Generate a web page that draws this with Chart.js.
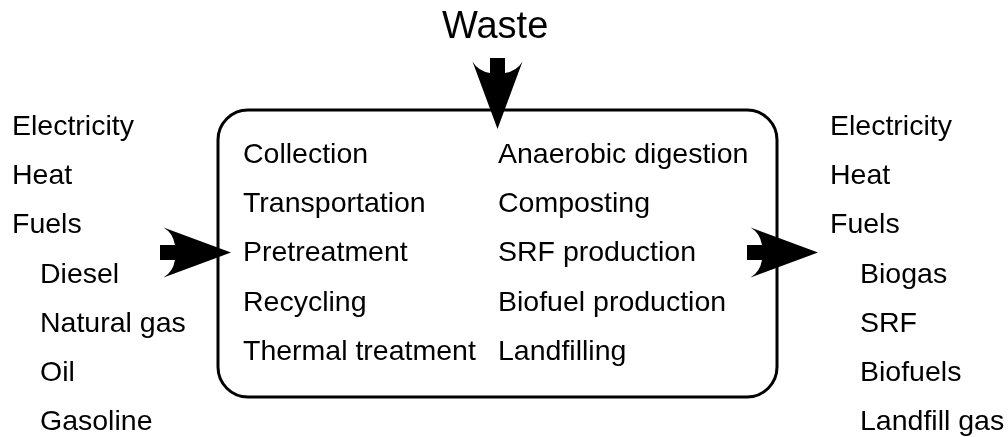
<!DOCTYPE html>
<html>
<head>
<meta charset="utf-8">
<script src="https://cdn.jsdelivr.net/npm/chart.js@4/dist/chart.umd.min.js"></script>
<style>
html,body{margin:0;padding:0;background:#fff;}
#wrap{width:1008px;height:437px;}
</style>
</head>
<body>
<div id="wrap"><canvas id="c" width="1008" height="437"></canvas></div>
<script>
// ---- content ----
const titleLabel = "Waste";
const inputMain = ["Electricity", "Heat", "Fuels"];
const inputFuels = ["Diesel", "Natural gas", "Oil", "Gasoline"];
const processLeft = ["Collection", "Transportation", "Pretreatment", "Recycling", "Thermal treatment"];
const processRight = ["Anaerobic digestion", "Composting", "SRF production", "Biofuel production", "Landfilling"];
const outputMain = ["Electricity", "Heat", "Fuels"];
const outputFuels = ["Biogas", "SRF", "Biofuels", "Landfill gas"];

// ---- layout (value-space of the hidden scales) ----
const FONT = '28.5px "Liberation Sans", Arial, sans-serif';
const TITLE_FONT = '38px "Liberation Sans", Arial, sans-serif';
const rowStep = 49.2;

function drawArrow(ctx, xs, ys, back, tip, center, dir) {
  // dir: 'right' or 'down'; coordinates computed along axis then mapped
  const hw = 25, sw = 7.5, wingOff = 3.5, notchOff = 15;
  const pts = (a, p) => dir === 'right' ? [xs(a), ys(p)] : [xs(p), ys(a)];
  ctx.beginPath();
  let q;
  q = pts(back, center - sw); ctx.moveTo(q[0], q[1]);
  q = pts(back + notchOff, center - sw); ctx.lineTo(q[0], q[1]);
  let c1 = pts(back + notchOff - 2, center - sw - 12);
  q = pts(back + wingOff, center - hw); ctx.quadraticCurveTo(c1[0], c1[1], q[0], q[1]);
  q = pts(tip, center); ctx.lineTo(q[0], q[1]);
  q = pts(back + wingOff, center + hw); ctx.lineTo(q[0], q[1]);
  c1 = pts(back + notchOff - 2, center + sw + 12);
  q = pts(back + notchOff, center + sw); ctx.quadraticCurveTo(c1[0], c1[1], q[0], q[1]);
  q = pts(back, center + sw); ctx.lineTo(q[0], q[1]);
  ctx.closePath();
  ctx.fill();
}

const diagramPlugin = {
  id: 'diagram',
  afterDraw(chart) {
    const ctx = chart.ctx;
    const X = chart.scales.x, Y = chart.scales.y;
    const xs = v => X.getPixelForValue(v);
    const ys = v => Y.getPixelForValue(v);
    ctx.save();
    ctx.fillStyle = '#000';
    ctx.strokeStyle = '#000';

    // box
    ctx.lineWidth = 3;
    ctx.beginPath();
    ctx.roundRect(xs(218), ys(110), xs(777) - xs(218), ys(397) - ys(110), 30);
    ctx.stroke();

    // arrows
    drawArrow(ctx, xs, ys, 58, 129, 497.5, 'down');
    drawArrow(ctx, xs, ys, 160, 231, 252.5, 'right');
    drawArrow(ctx, xs, ys, 747, 818, 252.5, 'right');

    // texts
    ctx.textBaseline = 'alphabetic';
    ctx.textAlign = 'left';
    ctx.font = TITLE_FONT;
    ctx.fillText(titleLabel, xs(442), ys(38));

    ctx.font = FONT;
    const col = (arr, x, y0) => arr.forEach((t, i) => ctx.fillText(t, xs(x), ys(y0 + i * rowStep)));
    col(inputMain, 12, 135);
    col(inputFuels, 40, 135 + 3 * rowStep);
    col(processLeft, 243, 163);
    col(processRight, 498, 163);
    col(outputMain, 830, 135);
    col(outputFuels, 860, 135 + 3 * rowStep);
    ctx.restore();
  }
};

new Chart(document.getElementById('c'), {
  type: 'scatter',
  data: { datasets: [{ data: [], pointRadius: 0 }] },
  options: {
    responsive: false,
    animation: false,
    layout: { padding: 0 },
    plugins: { legend: { display: false }, tooltip: { enabled: false } },
    scales: {
      x: { type: 'linear', min: 0, max: 1008, display: false },
      y: { type: 'linear', min: 0, max: 437, reverse: true, display: false }
    }
  },
  plugins: [diagramPlugin]
});
</script>
</body>
</html>
